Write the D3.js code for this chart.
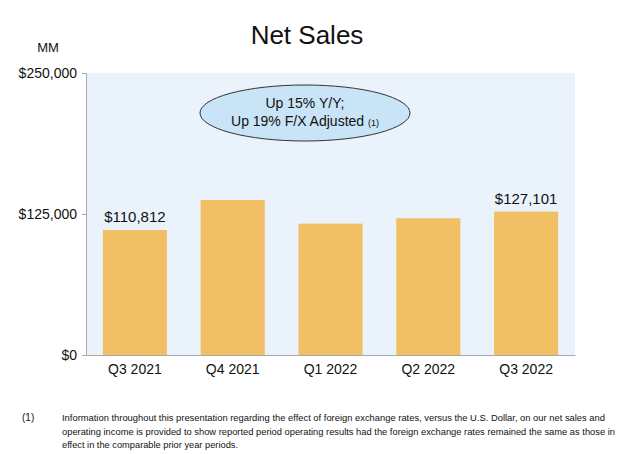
<!DOCTYPE html>
<html><head><meta charset="utf-8">
<script src="https://cdn.jsdelivr.net/npm/d3@7"></script>
<style>body{margin:0;background:#fff}svg{display:block}text{font-family:"Liberation Sans",Arial,Helvetica,sans-serif;fill:#111}</style>
</head><body>
<script>
const categories = ["Q3 2021","Q4 2021","Q1 2022","Q2 2022","Q3 2022"];
const netSales = [110812,137412,116444,121234,127101];
const valueLabels = ["$110,812",null,null,null,"$127,101"];
const yTicks = [0,125000,250000];
const yTickLabels = ["$0","$125,000","$250,000"];
const footnoteLines = [
 "Information throughout this presentation regarding the effect of foreign exchange rates, versus the U.S. Dollar, on our net sales and",
 "operating income is provided to show reported period operating results had the foreign exchange rates remained the same as those in",
 "effect in the comparable prior year periods."
];
const footnoteWidths = [543, 553, 176];

const W=630,H=454;
const svg=d3.select("body").append("svg").attr("width",W).attr("height",H);
const L=86,R=575,T=73,B=355;
const x=d3.scaleBand().domain(categories).range([L,R]).paddingInner(0.345).paddingOuter(0.1725);
const y=d3.scaleLinear().domain([0,250000]).range([B,T]);

svg.append("rect").attr("x",L).attr("y",T).attr("width",R-L).attr("height",B-T).attr("fill","#eaf2fb");

svg.append("text").attr("x",307).attr("y",44).attr("text-anchor","middle").attr("font-size",26).text("Net Sales");
svg.append("text").attr("x",48).attr("y",52).attr("text-anchor","middle").attr("font-size",13).text("MM");

svg.selectAll("rect.bar").data(netSales).join("rect").attr("class","bar")
 .attr("x",(d,i)=>x(categories[i])).attr("width",x.bandwidth())
 .attr("y",d=>y(d)).attr("height",d=>B-y(d)).attr("fill","#f1c064");

const labelled = netSales.map((v,i)=>({v,i})).filter(d=>valueLabels[d.i]);
svg.selectAll("text.val").data(labelled).join("text").attr("class","val")
 .attr("x",d=>x(categories[d.i])+x.bandwidth()/2)
 .attr("y",d=>y(d.v)-8).attr("text-anchor","middle").attr("font-size",15)
 .text(d=>valueLabels[d.i]);

const ya=svg.append("g").attr("transform",`translate(${L},0)`)
 .call(d3.axisLeft(y).tickValues(yTicks).tickSize(4).tickPadding(5).tickFormat((d,i)=>yTickLabels[i]));
ya.select(".domain").attr("stroke","#aaa");
ya.selectAll(".tick line").attr("stroke","#aaa");
ya.selectAll("text").attr("font-size",14).attr("fill","#111").style("font-family","Liberation Sans, Arial, sans-serif");

const xa=svg.append("g").attr("transform",`translate(0,${B})`)
 .call(d3.axisBottom(x).tickSize(0).tickPadding(9).tickSizeOuter(0));
xa.select(".domain").attr("stroke","#aaa");
xa.selectAll("text").attr("font-size",14).attr("fill","#111").style("font-family","Liberation Sans, Arial, sans-serif");

svg.append("ellipse").attr("cx",305).attr("cy",113).attr("rx",105).attr("ry",28)
 .attr("fill","#c8e4f6").attr("stroke","#333").attr("stroke-width",1);
svg.append("text").attr("x",305).attr("y",108).attr("text-anchor","middle").attr("font-size",14).text("Up 15% Y/Y;");
const t2=svg.append("text").attr("x",305).attr("y",126).attr("text-anchor","middle").attr("font-size",14);
t2.append("tspan").text("Up 19% F/X Adjusted ");
t2.append("tspan").attr("font-size",9).text("(1)");

svg.append("text").attr("x",22).attr("y",421).attr("font-size",10).text("(1)");
svg.selectAll("text.fn").data(footnoteLines).join("text").attr("class","fn")
 .attr("x",62).attr("y",(d,i)=>421+i*13.5).attr("font-size",8.7)
 .attr("textLength",(d,i)=>footnoteWidths[i]).attr("lengthAdjust","spacingAndGlyphs")
 .text(d=>d);
</script>
</body></html>
